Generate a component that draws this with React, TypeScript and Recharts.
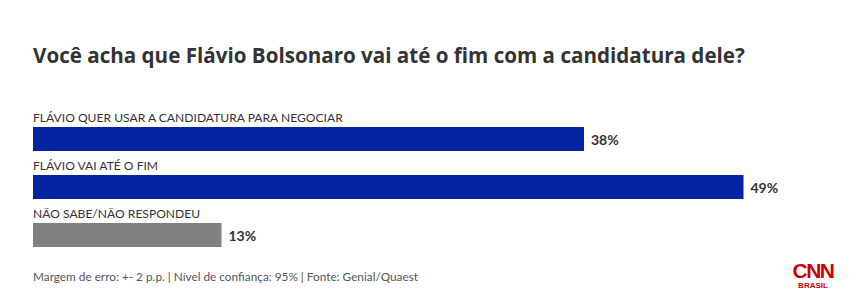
import React from "react";
import { BarChart, Bar, XAxis, YAxis, LabelList, Cell } from "recharts";

const categories = [
  "FLÁVIO QUER USAR A CANDIDATURA PARA NEGOCIAR",
  "FLÁVIO VAI ATÉ O FIM",
  "NÃO SABE/NÃO RESPONDEU",
];
const values = [38, 49, 13];
const colors = ["#0323a0", "#0323a0", "#808080"];

const title = "Você acha que Flávio Bolsonaro vai até o fim com a candidatura dele?";
const footer = "Margem de erro: +- 2 p.p. | Nível de confiança: 95% | Fonte: Genial/Quaest";

const data = categories.map((name, i) => ({ name, value: values[i] }));

const FONT = "Lato, 'Noto Sans', sans-serif";

const CatLabel = (props: any) => {
  const { x, y, value } = props;
  return (
    <text x={x} y={y - 5} fill="#333" fontSize={12.1} fontFamily={FONT}>
      {value}
    </text>
  );
};

const ValLabel = (props: any) => {
  const { x, y, width, height, value } = props;
  return (
    <text
      x={x + width + 7}
      y={y + height / 2}
      dominantBaseline="central"
      fill="#333"
      fontSize={14}
      fontWeight={700}
      fontFamily={FONT}
    >
      {value}%
    </text>
  );
};

export default function App() {
  return (
    <div style={{ position: "absolute", left: 0, top: 0, width: 860, height: 300, background: "#fff", fontFamily: FONT }}>
      <div
        style={{
          position: "absolute",
          left: 33,
          top: 42,
          fontSize: 20.6,
          fontWeight: 700,
          color: "#333",
          whiteSpace: "nowrap",
          lineHeight: "26px",
          fontFamily: "'Open Sans', sans-serif",
        }}
      >
        {title}
      </div>
      <BarChart
        width={860}
        height={300}
        layout="vertical"
        data={data}
        margin={{ top: 115, right: 29.5, bottom: 41, left: 33 }}
        style={{ position: "absolute", left: 0, top: 0 }}
      >
        <XAxis type="number" domain={[0, 55]} hide />
        <YAxis type="category" dataKey="name" hide />
        <Bar dataKey="value" barSize={24} isAnimationActive={false}>
          {data.map((d, i) => (
            <Cell key={d.name} fill={colors[i]} />
          ))}
          <LabelList dataKey="name" content={CatLabel} />
          <LabelList dataKey="value" content={ValLabel} />
        </Bar>
      </BarChart>
      <div
        style={{
          position: "absolute",
          left: 33,
          top: 270,
          fontSize: 11.8,
          color: "#555",
          whiteSpace: "nowrap",
          lineHeight: "14px",
        }}
      >
        {footer}
      </div>
      <div style={{ position: "absolute", left: 790, top: 260, width: 46, textAlign: "center", color: "#cc0000", fontFamily: "'Liberation Sans', Arial, sans-serif" }}>
        <div style={{ fontSize: 21, fontWeight: 700, lineHeight: "21px", letterSpacing: -1.5 }}>CNN</div>
        <div style={{ fontSize: 8, fontWeight: 700, lineHeight: "9px" }}>BRASIL</div>
      </div>
    </div>
  );
}
